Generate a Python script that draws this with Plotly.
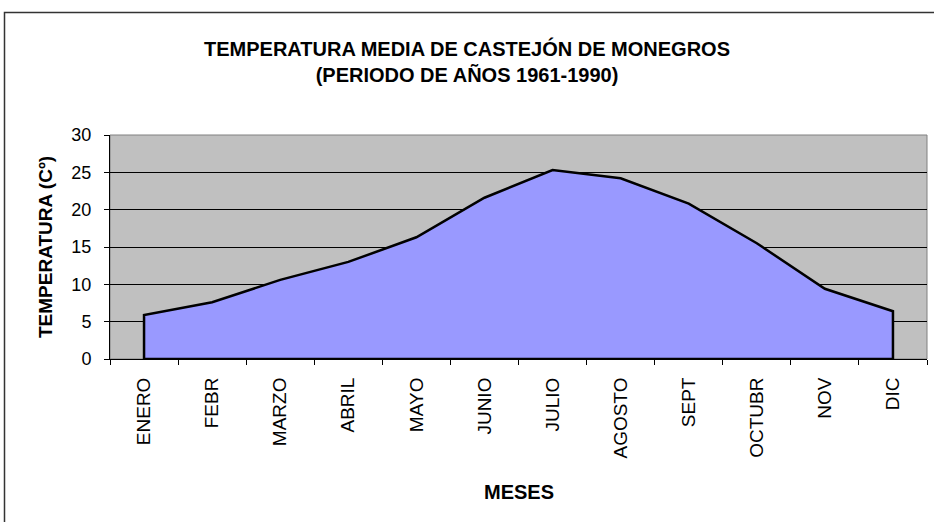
import plotly.graph_objects as go

meses = ["ENERO", "FEBR", "MARZO", "ABRIL", "MAYO", "JUNIO", "JULIO",
         "AGOSTO", "SEPT", "OCTUBR", "NOV", "DIC"]
temperatura = [5.9, 7.6, 10.6, 13.0, 16.3, 21.6, 25.3, 24.2, 20.8, 15.5, 9.4, 6.4]
y_ticks = [0, 5, 10, 15, 20, 25, 30]

# closed polygon for the area (drops vertically to 0 at both ends)
xs = [meses[0]] + meses + [meses[-1], meses[0]]
ys = [0] + temperatura + [0, 0]

fig = go.Figure()
fig.add_trace(go.Scatter(
    x=xs, y=ys, mode="lines", fill="toself",
    fillcolor="#9999FF",
    line=dict(color="black", width=2.5),
    hoverinfo="skip", showlegend=False,
))

W, H = 934, 522
L, R, T, B = 110, 7, 135, 163
pw, ph = W - L - R, H - T - B


def px_x(p):
    return (p - L) / pw


def px_y(p):
    return (H - B - p) / ph


FONT = "Liberation Sans, Arial, sans-serif"

fig.update_layout(
    width=W, height=H,
    margin=dict(l=L, r=R, t=T, b=B, autoexpand=False),
    paper_bgcolor="white",
    plot_bgcolor="#C0C0C0",
    font=dict(family=FONT, color="black"),
    title=dict(
        text="<b>TEMPERATURA MEDIA DE CASTEJÓN DE MONEGROS<br>(PERIODO DE AÑOS 1961-1990)</b>",
        x=px_x(467), xref="paper", xanchor="center",
        y=1 - 56 / H, yref="container", yanchor="middle",
        font=dict(size=20),
    ),
    xaxis=dict(
        type="category", categoryorder="array", categoryarray=meses,
        range=[-0.5, 11.5],
        tickson="boundaries", ticks="outside", ticklen=5, tickcolor="black",
        tickangle=-90, tickfont=dict(size=19),
        ticklabelstandoff=10,
        showgrid=False, showline=True, linecolor="black", linewidth=1,
        zeroline=False, automargin=False,
    ),
    yaxis=dict(
        range=[0, 30], tickvals=y_ticks,
        ticks="outside", ticklen=5, tickcolor="black",
        tickfont=dict(size=18),
        ticklabelstandoff=9,
        showgrid=True, gridcolor="black", gridwidth=1,
        showline=True, linecolor="black", linewidth=1,
        zeroline=False, automargin=False,
    ),
    annotations=[
        dict(text="<b>MESES</b>", xref="paper", yref="paper",
             x=0.5, y=px_y(492), xanchor="center", yanchor="middle",
             showarrow=False, font=dict(size=20)),
        dict(text="<b>TEMPERATURA (Cº)</b>", xref="paper", yref="paper",
             x=px_x(45), y=0.5, xanchor="center", yanchor="middle",
             textangle=-90, showarrow=False, font=dict(size=19)),
    ],
    shapes=[
        # plot area border
        dict(type="rect", xref="paper", yref="paper", x0=0, x1=1, y0=0, y1=1,
             line=dict(color="#808080", width=1), layer="below"),
        # outer chart frame
        dict(type="rect", xref="paper", yref="paper",
             x0=px_x(4.5), x1=px_x(945), y0=px_y(540), y1=px_y(12.5),
             line=dict(color="#333333", width=1.5)),
    ],
)

fig.write_html(
    "out.html",
    config={"displayModeBar": False},
    post_script="document.documentElement.style.overflow='hidden';"
                "document.body.style.margin='0';document.body.style.overflow='hidden';",
)
